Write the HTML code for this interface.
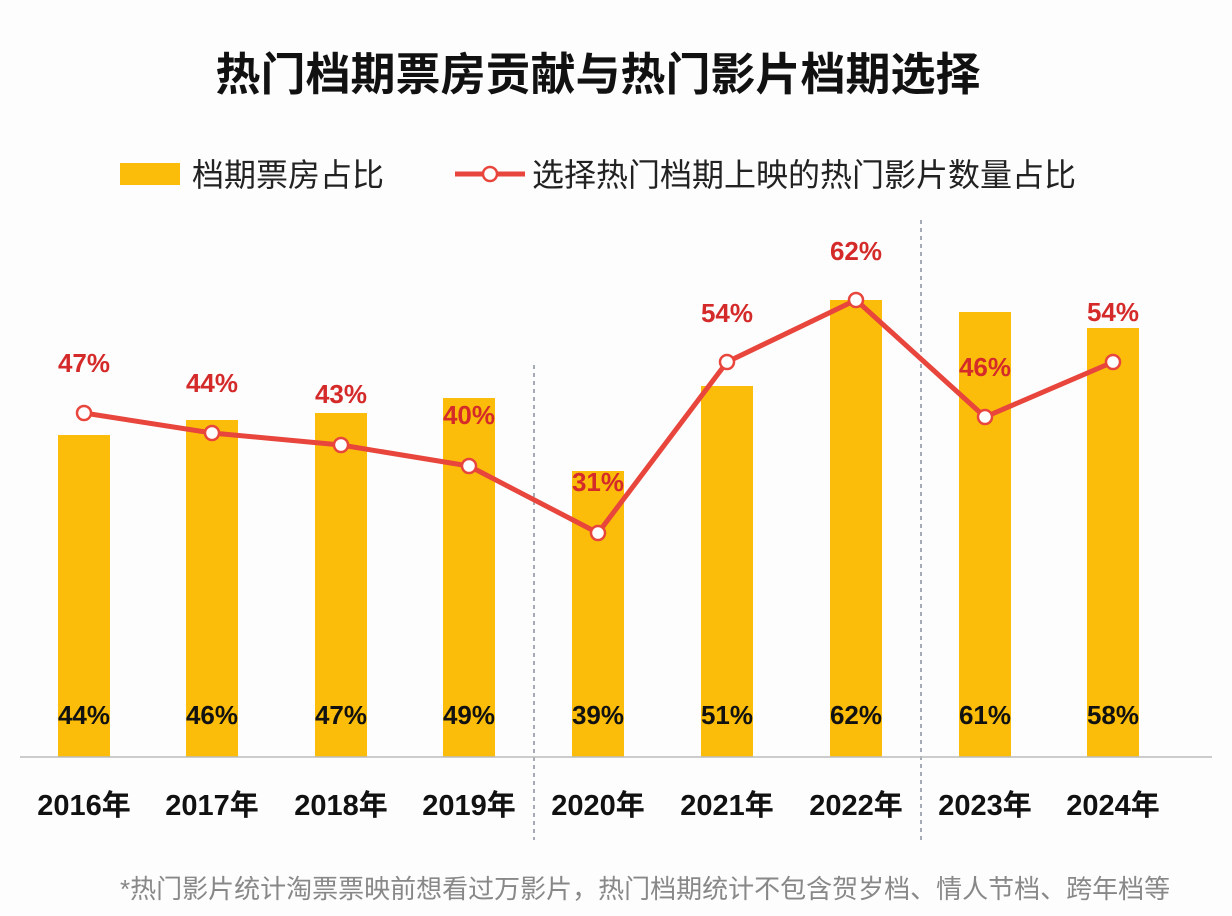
<!DOCTYPE html>
<html><head><meta charset="utf-8"><style>
body{margin:0;background:#fff;}
svg{display:block;font-family:"Liberation Sans","Noto Sans CJK SC",sans-serif;}
</style></head><body>
<svg width="1232" height="916" viewBox="0 0 1232 916">
<rect width="1232" height="916" fill="#fdfdfd"/>
<text x="598" y="90" text-anchor="middle" font-size="45" font-weight="bold" fill="#111">热门档期票房贡献与热门影片档期选择</text>
<rect x="120" y="163" width="60" height="22" fill="#fbbd0a"/>
<text x="192" y="186" font-size="32" fill="#222">档期票房占比</text>
<line x1="455" y1="174" x2="525" y2="174" stroke="#e8453c" stroke-width="5"/>
<circle cx="490" cy="174" r="7" fill="#fff" stroke="#e8453c" stroke-width="2.5"/>
<text x="532" y="186" font-size="32" fill="#222">选择热门档期上映的热门影片数量占比</text>
<g stroke="#8a8fa0" stroke-width="1.5" stroke-dasharray="4,4">
<line x1="534" y1="365" x2="534" y2="840"/>
<line x1="921" y1="220" x2="921" y2="840"/>
</g>
<g fill="#fbbd0a">
<rect x="58" y="435" width="52" height="322"/>
<rect x="186" y="420" width="52" height="337"/>
<rect x="315" y="413" width="52" height="344"/>
<rect x="443" y="398" width="52" height="359"/>
<rect x="572" y="471" width="52" height="286"/>
<rect x="701" y="386" width="52" height="371"/>
<rect x="830" y="300" width="52" height="457"/>
<rect x="959" y="312" width="52" height="445"/>
<rect x="1087" y="328" width="52" height="429"/>
</g>
<line x1="20" y1="757" x2="1212" y2="757" stroke="#bbb" stroke-width="1.5"/>
<polyline points="84,413 212,433 341,445 469,466 598,533 727,362 856,300 985,417 1113,362" fill="none" stroke="#e8453c" stroke-width="5" stroke-linejoin="round"/>
<g fill="#fff" stroke="#e8453c" stroke-width="2.5">
<circle cx="84" cy="413" r="7"/><circle cx="212" cy="433" r="7"/><circle cx="341" cy="445" r="7"/><circle cx="469" cy="466" r="7"/><circle cx="598" cy="533" r="7"/><circle cx="727" cy="362" r="7"/><circle cx="856" cy="300" r="7"/><circle cx="985" cy="417" r="7"/><circle cx="1113" cy="362" r="7"/>
</g>
<g font-size="26" font-weight="bold" fill="#d42a2a" text-anchor="middle">
<text x="84" y="372">47%</text><text x="212" y="392">44%</text><text x="341" y="403">43%</text><text x="469" y="424">40%</text><text x="598" y="491">31%</text><text x="727" y="322">54%</text><text x="856" y="260">62%</text><text x="985" y="376">46%</text><text x="1113" y="321">54%</text>
</g>
<g font-size="26" font-weight="bold" fill="#111" text-anchor="middle">
<text x="84" y="724">44%</text><text x="212" y="724">46%</text><text x="341" y="724">47%</text><text x="469" y="724">49%</text><text x="598" y="724">39%</text><text x="727" y="724">51%</text><text x="856" y="724">62%</text><text x="985" y="724">61%</text><text x="1113" y="724">58%</text>
</g>
<g font-size="29" font-weight="bold" fill="#111" text-anchor="middle">
<text x="84" y="815">2016年</text><text x="212" y="815">2017年</text><text x="341" y="815">2018年</text><text x="469" y="815">2019年</text><text x="598" y="815">2020年</text><text x="727" y="815">2021年</text><text x="856" y="815">2022年</text><text x="985" y="815">2023年</text><text x="1113" y="815">2024年</text>
</g>
<text x="120" y="898" font-size="26" fill="#888">*热门影片统计淘票票映前想看过万影片，热门档期统计不包含贺岁档、情人节档、跨年档等</text>
</svg>
</body></html>
